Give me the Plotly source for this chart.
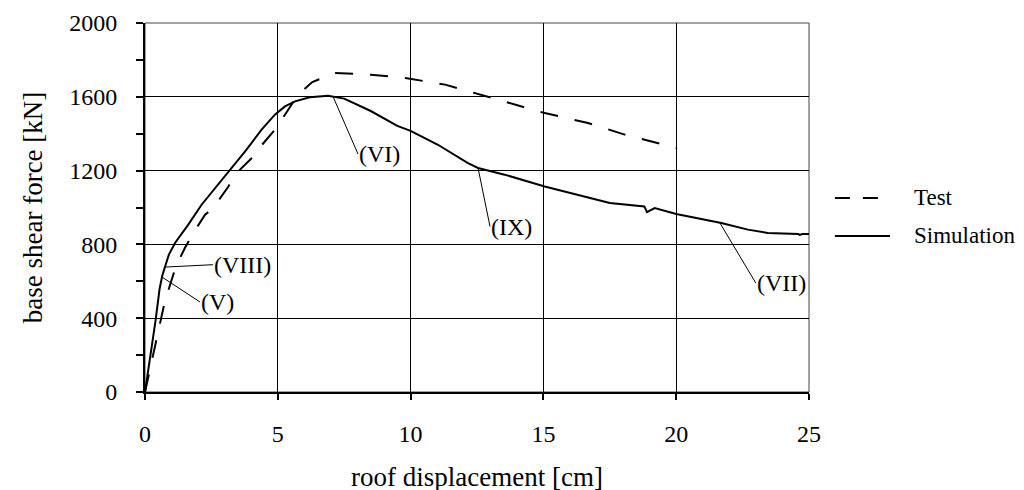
import numpy as np
import plotly.graph_objects as go

# ---- data ----
sim_x = [0, 0.2, 0.4, 0.55, 0.65, 0.75, 0.9, 1.13, 1.63, 2.13, 2.64, 3.14, 3.77, 4.39, 4.89,
         5.27, 5.65, 6.2, 6.89, 7.5, 8.5, 9.5, 10.0, 11.03, 12.16, 12.54, 13.54, 15.05, 16.3,
         17.5, 18.8, 18.9, 19.19, 20.0, 21.7, 22.7, 23.45, 24.6, 24.65, 24.75, 25.0]
sim_y = [0, 190, 390, 560, 630, 677, 745, 808, 907, 1015, 1106, 1196, 1304, 1422, 1503,
         1548, 1575, 1598, 1606, 1590, 1523, 1442, 1415, 1340, 1241, 1214, 1178, 1114, 1066,
         1024, 1006, 975, 997, 965, 916, 880, 862, 856, 851, 856, 856]

test_x = [0, 0.3, 0.6, 0.75, 1.17, 1.5, 1.82, 2.26, 2.57, 2.7, 3.14, 3.45, 4.02, 4.39, 4.89,
          5.27, 5.76, 6.3, 7.15, 8.5, 9.8, 11.3, 12.65, 15.05, 16.68, 18.06, 19.75, 20.0]
test_y = [0, 200, 400, 493, 683, 780, 862, 961, 997, 1024, 1114, 1187, 1268, 1337, 1422,
          1503, 1611, 1680, 1729, 1720, 1702, 1666, 1611, 1512, 1458, 1395, 1332, 1322]

ann_labels = ["(VIII)", "(V)", "(VI)", "(IX)", "(VII)"]
ann_point_x = [0.75, 0.64, 7.08, 12.54, 21.64]
ann_text_x = [2.56, 2.07, 8.02, 12.99, 23.0]
ann_text_y = [690, 488, 1290, 897, 590]

x_ticks = [0, 5, 10, 15, 20, 25]
y_ticks = [0, 400, 800, 1200, 1600, 2000]

FONT = "Liberation Serif, Times New Roman, serif"

fig = go.Figure()
fig.add_trace(go.Scatter(x=test_x, y=test_y, mode="lines", name="Test",
                         line=dict(color="black", width=2, dash="18px,17px"),
                         showlegend=False))
fig.add_trace(go.Scatter(x=sim_x, y=sim_y, mode="lines", name="Simulation",
                         line=dict(color="black", width=2), showlegend=False))

# leader lines + labels
ann_point_y = np.interp(ann_point_x, sim_x, sim_y)
for lab, px_, py_, tx, ty in zip(ann_labels, ann_point_x, ann_point_y, ann_text_x, ann_text_y):
    fig.add_shape(type="line", x0=px_, y0=py_, x1=tx, y1=ty,
                  line=dict(color="black", width=1), xref="x", yref="y")
    fig.add_annotation(x=tx, y=ty, text=lab, showarrow=False, xanchor="left",
                       yanchor="middle", font=dict(family=FONT, size=24, color="black"),
                       xshift=-1)

# plot frame (top / right)
fig.add_shape(type="rect", xref="paper", yref="paper", x0=0, y0=0, x1=1, y1=1,
              line=dict(color="#444", width=1), layer="below")

# manual legend
leg_names = ["Test", "Simulation"]
leg_dash = ["15px,13px", "solid"]
leg_y = [0.526, 0.423]
for nm, ds, yy in zip(leg_names, leg_dash, leg_y):
    fig.add_shape(type="line", xref="paper", yref="paper", x0=1.039, x1=1.122, y0=yy, y1=yy,
                  line=dict(color="black", width=2, dash=ds))
    fig.add_annotation(xref="paper", yref="paper", x=1.155, y=yy, text=nm, showarrow=False,
                       xanchor="left", yanchor="middle",
                       font=dict(family=FONT, size=23, color="black"))

fig.update_layout(
    width=1024, height=490,
    margin=dict(l=137, r=223, t=15, b=106, autoexpand=False),
    paper_bgcolor="white", plot_bgcolor="white",
    font=dict(family=FONT, size=24, color="black"),
    showlegend=False,
)
fig.update_xaxes(range=[0, 25], tickvals=x_ticks, ticktext=[str(v) for v in x_ticks],
                 automargin=False,
                 showgrid=True, gridcolor="black", gridwidth=1,
                 showline=True, linecolor="black", linewidth=2, zeroline=False,
                 ticks="outside", ticklen=6, tickwidth=1.5, tickcolor="black",
                 ticklabelstandoff=13,
                 tickfont=dict(family=FONT, size=24),
                 title=dict(text="roof displacement [cm]", font=dict(family=FONT, size=27),
                            standoff=21))
fig.update_yaxes(range=[0, 2000], tickvals=y_ticks, ticktext=[str(v) for v in y_ticks],
                 automargin=False,
                 showgrid=True, gridcolor="black", gridwidth=1,
                 showline=True, linecolor="black", linewidth=2, zeroline=False,
                 ticks="outside", ticklen=7, tickwidth=1.5, tickcolor="black",
                 minor=dict(dtick=200, ticks="outside", ticklen=7, tickwidth=1.5,
                            tickcolor="black", showgrid=False),
                 ticklabelstandoff=14,
                 tickfont=dict(family=FONT, size=24),
                 title=dict(text="base shear force [kN]", font=dict(family=FONT, size=27),
                            standoff=19))

fig.write_html("out.html")
